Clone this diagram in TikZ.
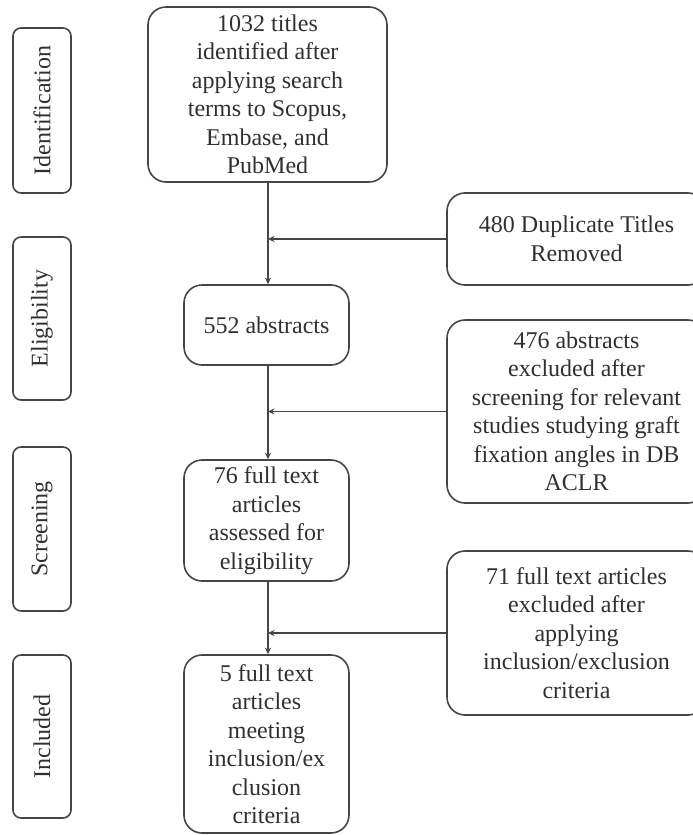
\documentclass[tikz,border=0pt]{standalone}
\usepackage{fontspec}
\setmainfont{Liberation Serif}
\usetikzlibrary{arrows.meta}
\definecolor{linegray}{HTML}{454545}
\definecolor{textgray}{HTML}{303030}

\begin{document}
\begin{tikzpicture}[x=1pt,y=-1pt,
	box/.style={draw=linegray,line width=1.6pt,rounded corners=18pt,inner sep=0pt,align=center,text=textgray,font=\rmfamily\fontsize{24}{28.5}\selectfont},
	stage/.style={draw=linegray,line width=1.6pt,rounded corners=8pt,inner sep=0pt,text=textgray,font=\rmfamily\fontsize{24}{28.5}\selectfont,minimum width=58pt},
	flow/.style={draw=linegray,line width=1.6pt,-{Stealth[length=6.5pt,width=6pt]}}]
	\useasboundingbox (0,0) rectangle (693,835);
	% stage labels on the left
	\node[stage,minimum height=165pt] (ident) at (42,110.5) {\rotatebox{90}{Identification}};
	\node[stage,minimum height=163pt] (elig) at (42,318.5) {\rotatebox{90}{Eligibility}};
	\node[stage,minimum height=164pt] (screen) at (42,529) {\rotatebox{90}{Screening}};
	\node[stage,minimum height=163pt] (incl) at (42,736.5) {\rotatebox{90}{Included}};
	% main column
	\node[box,minimum width=239pt,minimum height=175pt] (titles) at (267.5,94.5) {1032 titles\\identified after\\applying search\\terms to Scopus,\\Embase, and\\PubMed};
	\node[box,minimum width=165pt,minimum height=80pt] (abstr) at (266.5,325) {552 abstracts};
	\node[box,minimum width=165pt,minimum height=121pt] (full) at (266.5,520.5) {76 full text\\articles\\assessed for\\eligibility};
	\node[box,minimum width=165pt,minimum height=178pt] (final) at (266.5,744) {5 full text\\articles\\meeting\\inclusion/ex\\clusion\\criteria};
	% exclusions on the right
	\node[box,minimum width=259pt,minimum height=92pt] (dup) at (576.5,239) {480 Duplicate Titles\\Removed};
	\node[box,minimum width=259pt,minimum height=183pt] (excla) at (576.5,411.5) {476 abstracts\\excluded after\\screening for relevant\\studies studying graft\\fixation angles in DB\\ACLR};
	\node[box,minimum width=259pt,minimum height=164pt] (exclb) at (576.5,633) {71 full text articles\\excluded after\\applying\\inclusion/exclusion\\criteria};
	% junctions on the main line
	\coordinate (j1) at (268,239);
	\coordinate (j2) at (268,411.5);
	\coordinate (j3) at (268,633);
	\draw[flow] (titles.south -| j1) -- (abstr.north -| j1);
	\draw[flow] (abstr.south -| j2) -- (full.north -| j2);
	\draw[flow] (full.south -| j3) -- (final.north -| j3);
	\draw[flow] (dup.west) -- (j1);
	\draw[flow] (excla.west) -- (j2);
	\draw[flow] (exclb.west) -- (j3);
\end{tikzpicture}
\end{document}
